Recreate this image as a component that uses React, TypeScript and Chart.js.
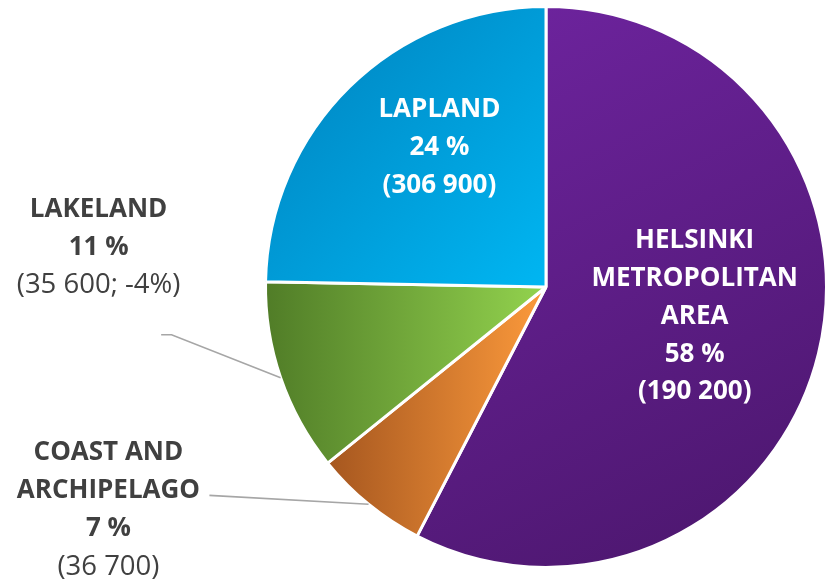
import React, { useEffect, useRef } from "react";
import { Chart, registerables } from "chart.js";

Chart.register(...registerables);

const categories = ["HELSINKI METROPOLITAN AREA", "COAST AND ARCHIPELAGO", "LAKELAND", "LAPLAND"];
// slice sizes (percent of the circle)
const shares = [57.6, 6.6, 11.1, 24.7];
const percentLabels = ["58 %", "7 %", "11 %", "24 %"];
const countLabels = ["(190 200)", "(36 700)", "(35 600; -4%)", "(306 900)"];
const nameLines = [["HELSINKI", "METROPOLITAN", "AREA"], ["COAST AND", "ARCHIPELAGO"], ["LAKELAND"], ["LAPLAND"]];

const FONT = "'Open Sans', 'Noto Sans', sans-serif";

function sliceFill(ctx: any) {
  const chart = ctx.chart;
  const area = chart.chartArea;
  const i = ctx.dataIndex;
  const solid = ["#5E1E8C", "#D9782E", "#72A83A", "#00A0DE"];
  if (!area) return solid[i];
  const c = chart.ctx as CanvasRenderingContext2D;
  const cx = (area.left + area.right) / 2;
  const cy = (area.top + area.bottom) / 2;
  const r = Math.min(area.right - area.left, area.bottom - area.top) / 2;
  let g: CanvasGradient;
  if (i === 0) {
    g = c.createLinearGradient(cx, cy - r, cx + r, cy + r);
    g.addColorStop(0, "#6C239C");
    g.addColorStop(1, "#4A166B");
  } else if (i === 1) {
    g = c.createLinearGradient(cx - r * 0.78, 0, cx - r * 0.05, 0);
    g.addColorStop(0, "#A5561F");
    g.addColorStop(1, "#F7963A");
  } else if (i === 2) {
    g = c.createLinearGradient(cx - r, 0, cx, 0);
    g.addColorStop(0, "#507C27");
    g.addColorStop(1, "#93D34E");
  } else {
    g = c.createLinearGradient(cx - r, cy - r, cx, cy);
    g.addColorStop(0, "#0080BC");
    g.addColorStop(1, "#00B6F2");
  }
  return g;
}

const labelPlugin = {
  id: "sliceLabels",
  afterDraw(chart: any) {
    const meta = chart.getDatasetMeta(0);
    const c = chart.ctx as CanvasRenderingContext2D;
    c.save();
    c.textAlign = "center";
    c.textBaseline = "middle";
    meta.data.forEach((arc: any, i: number) => {
      const p = arc.getProps(["x", "y", "startAngle", "endAngle", "outerRadius"], true);
      const mid = (p.startAngle + p.endAngle) / 2;
      const R = p.outerRadius;
      const inside = i === 0 || i === 3;
      const lines: { t: string; bold: boolean }[] = [];
      nameLines[i].forEach((t) => lines.push({ t, bold: true }));
      lines.push({ t: percentLabels[i], bold: true });
      lines.push({ t: countLabels[i], bold: inside });
      let lh = 37.8;
      let ax: number, ay: number;
      if (inside) {
        if (i === 0) { ax = p.x + R * 0.53; ay = p.y + R * 0.105; }
        else { ax = p.x - R * 0.38; ay = p.y - R * 0.496; }
      } else {
        // leader line from the slice edge out to the label
        const ex = p.x + Math.cos(mid) * R;
        const ey = p.y + Math.sin(mid) * R;
        c.strokeStyle = "#A6A6A6";
        c.lineWidth = 1.6;
        c.beginPath();
        c.moveTo(ex, ey);
        if (i === 2) {
          c.lineTo(p.x - R * 1.335, p.y + R * 0.17);
          c.lineTo(p.x - R * 1.372, p.y + R * 0.17);
          ax = p.x - R * 1.595;
          ay = p.y - R * 0.142;
        } else {
          c.lineTo(p.x - R * 1.2, p.y + R * 0.743);
          ax = p.x - R * 1.56;
          ay = p.y + R * 0.794;
          lh = 38.4;
        }
        c.stroke();
      }
      const top = ay - ((lines.length - 1) * lh) / 2;
      lines.forEach((ln, j) => {
        c.font = ln.bold ? `bold 26px ${FONT}` : `27.5px ${FONT}`;
        c.fillStyle = inside ? "#FFFFFF" : "#404040";
        c.fillText(ln.t, ax, top + j * lh);
      });
    });
    c.restore();
  },
};

export default function App() {
  const ref = useRef<HTMLCanvasElement | null>(null);
  useEffect(() => {
    if (!ref.current) return;
    const chart = new Chart(ref.current, {
      type: "pie",
      data: {
        labels: categories,
        datasets: [
          {
            data: shares,
            backgroundColor: sliceFill as any,
            borderColor: "#FFFFFF",
            borderWidth: 3,
          },
        ],
      },
      options: {
        animation: false,
        responsive: false,
        maintainAspectRatio: false,
        rotation: 0,
        layout: { padding: { left: 264, right: 0, top: 5, bottom: 15 } },
        plugins: { legend: { display: false }, tooltip: { enabled: false } },
      },
      plugins: [labelPlugin],
    });
    return () => chart.destroy();
  }, []);
  return (
    <div style={{ position: "fixed", left: 0, top: 0, width: 828, height: 584, background: "#fff" }}>
      <canvas ref={ref} width={828} height={584} style={{ width: 828, height: 584 }} />
    </div>
  );
}
